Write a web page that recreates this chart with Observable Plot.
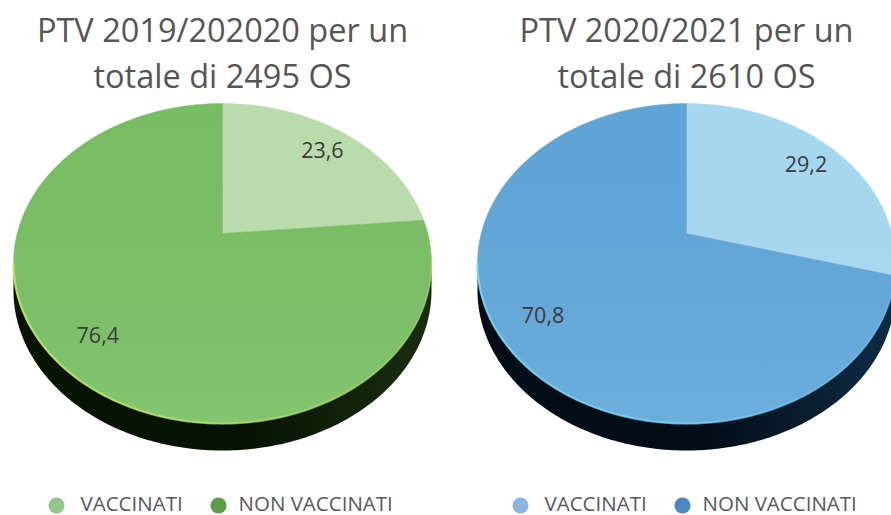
<!DOCTYPE html>
<html>
<head>
<meta charset="utf-8">
<script src="https://cdn.jsdelivr.net/npm/d3@7"></script>
<script src="https://cdn.jsdelivr.net/npm/@observablehq/plot@0.6"></script>
<style>
  html, body { margin: 0; padding: 0; background: #ffffff; overflow: hidden; }
  #chart svg { display: block; }
</style>
</head>
<body>
<div id="chart"></div>
<script>
// ---------- data ----------
const seasons = ["2019/2020", "2020/2021"];
const titleLine1 = ["PTV 2019/202020 per un", "PTV 2020/2021 per un"];
const titleLine2 = ["totale di 2495 OS", "totale di 2610 OS"];
const categories = ["VACCINATI", "NON VACCINATI"];
const vaccinati = [23.6, 29.2];
const nonVaccinati = [76.4, 70.8];

// ---------- styles ----------
const sliceColors = [["#bee0af", "#7bc165"], ["#a9dcf4", "#62a8db"]];
const legendColors = [["#93c68b", "#5b9b4a"], ["#8cb6e1", "#4c87bf"]];
const sideGrad = [["#071303", "#1a2d10"], ["#030d18", "#0e2c45"]];
const rimColors = ["#c4e36a", "#78d6f7"];
const FONT = "'Open Sans', 'Noto Sans', sans-serif";

// ---------- layout (pixels) ----------
const W = 891, H = 515;
const PX = 205.3;            // pixels per pie radius unit
const CX0 = 222, CY0 = 233;  // centre of the left pie
const GAP = 464 / PX;        // distance between pie centres (units)
const K = 0.1875;            // perspective strength
const R = 154.4 / 205.3;     // vertical squash
const DEPTH = 27 / PX;       // thickness of the pie
const px = (v) => v / PX;

// projection of a point on the (tilted) unit disc
function proj(i, thetaDeg, r) {
  const t = thetaDeg * Math.PI / 180;
  const u = r * Math.sin(t), v = -r * Math.cos(t);
  const den = 1 - K * v;
  return {x: i * GAP + u / den, y: R * v / den};
}

const slices = [];   // polygons of top faces
const faces = [];    // whole top face (for shading)
const sides = [];    // side walls
const rims = [];     // rim highlight
const labels = [];
seasons.forEach((s, i) => {
  const vals = [vaccinati[i], nonVaccinati[i]];
  const total = d3.sum(vals);
  let a0 = 0;
  vals.forEach((v, j) => {
    const a1 = a0 + 360 * v / total;
    const key = s + "-" + j;
    const c = proj(i, 0, 0);
    slices.push({key, pie: i, cat: j, x: c.x, y: c.y});
    const n = Math.ceil((a1 - a0) * 2);
    for (let k = 0; k <= n; ++k) {
      const p = proj(i, a0 + (a1 - a0) * k / n, 1);
      slices.push({key, pie: i, cat: j, x: p.x, y: p.y});
    }
    slices.push({key, pie: i, cat: j, x: c.x, y: c.y});
    const mid = (a0 + a1) / 2;
    const lp = proj(i, mid, 0.8);
    labels.push({pie: i, x: lp.x, y: lp.y, text: v.toFixed(1).replace(".", ",")});
    a0 = a1;
  });
  for (let k = 0; k <= 720; ++k) {
    const p = proj(i, k / 2, 1);
    faces.push({pie: i, x: p.x, y: p.y});
  }
  // side wall between the two silhouette tangents, through the front
  const tR = Math.acos(-K) * 180 / Math.PI, tL = 360 - tR;
  const top = [], bottom = [];
  for (let k = 0; k <= 200; ++k) {
    const p = proj(i, tR + (tL - tR) * k / 200, 1);
    top.push(p);
    bottom.push({x: p.x, y: p.y + DEPTH});
  }
  top.forEach(p => sides.push({pie: i, x: p.x, y: p.y}));
  bottom.reverse().forEach(p => sides.push({pie: i, x: p.x, y: p.y}));
  top.forEach(p => rims.push({pie: i, x: p.x, y: p.y}));
});

// legend entries
const legend = [];
seasons.forEach((s, i) => {
  categories.forEach((c, j) => {
    legend.push({
      pie: i, cat: j, label: c,
      dx: i * GAP + px(j === 0 ? -166 : -4),
      tx: i * GAP + px(j === 0 ? -142 : 16),
      y: px(505 - CY0),
      ty: px(510 - CY0)
    });
  });
});

const titles = seasons.map((s, i) => ({pie: i, x: i * GAP, l1: titleLine1[i], l2: titleLine2[i]}));

const marks = [];
seasons.forEach((s, i) => {
  marks.push(Plot.line(sides.filter(d => d.pie === i), {x: "x", y: "y", fill: `url(#side${i})`, stroke: "none", curve: "linear"}));
  [0, 1].forEach(j => {
    marks.push(Plot.line(slices.filter(d => d.pie === i && d.cat === j), {
      x: "x", y: "y", z: "key", fill: sliceColors[i][j], stroke: sliceColors[i][j], strokeWidth: 0.5, curve: "linear"
    }));
  });
  marks.push(Plot.line(faces.filter(d => d.pie === i), {x: "x", y: "y", fill: "url(#shade)", stroke: "none", curve: "linear"}));
  marks.push(Plot.line(rims.filter(d => d.pie === i), {x: "x", y: "y", stroke: `url(#rim${i})`, strokeWidth: 2.2, curve: "linear"}));
});
marks.push(
  Plot.text(labels, {x: "x", y: "y", text: "text", fontSize: 21.5, fill: "#3b3b3b", fontFamily: FONT, textAnchor: "middle", lineAnchor: "middle"}),
  Plot.text(titles, {x: "x", y: () => px(41 - CY0), text: "l1", fontSize: 32.5, fill: "#555555", fontFamily: FONT, lineAnchor: "bottom"}),
  Plot.text(titles, {x: "x", y: () => px(87 - CY0), text: "l2", fontSize: 32.5, fill: "#555555", fontFamily: FONT, lineAnchor: "bottom"}),
  Plot.dot(legend, {x: "dx", y: "y", r: 8, fill: d => legendColors[d.pie][d.cat], stroke: "none"}),
  Plot.text(legend, {x: "tx", y: "ty", text: "label", fontSize: 20.5, fill: "#595959", fontFamily: FONT, textAnchor: "start", lineAnchor: "bottom"})
);

const chart = Plot.plot({
  width: W,
  height: H,
  margin: 0,
  style: {background: "#ffffff", overflow: "hidden"},
  x: {domain: [-CX0 / PX, (W - CX0) / PX], range: [0, W], axis: null},
  y: {domain: [-CY0 / PX, (H - CY0) / PX], range: [0, H], axis: null},
  marks
});

// gradients
const svg = d3.select(chart);
const defs = svg.insert("defs", ":first-child");
[0, 1].forEach(i => {
  const g = defs.append("linearGradient").attr("id", `side${i}`).attr("x1", 0).attr("y1", 0).attr("x2", 1).attr("y2", 0);
  g.append("stop").attr("offset", 0).attr("stop-color", sideGrad[i][0]);
  g.append("stop").attr("offset", 0.55).attr("stop-color", sideGrad[i][0]);
  g.append("stop").attr("offset", 1).attr("stop-color", sideGrad[i][1]);
  const r = defs.append("linearGradient").attr("id", `rim${i}`).attr("x1", 0).attr("y1", 0).attr("x2", 1).attr("y2", 0);
  r.append("stop").attr("offset", 0).attr("stop-color", rimColors[i]).attr("stop-opacity", 0.9);
  r.append("stop").attr("offset", 0.5).attr("stop-color", rimColors[i]).attr("stop-opacity", 0.7);
  r.append("stop").attr("offset", 1).attr("stop-color", rimColors[i]).attr("stop-opacity", 0.25);
});
const sh = defs.append("linearGradient").attr("id", "shade").attr("x1", 0).attr("y1", 0).attr("x2", 0).attr("y2", 1);
sh.append("stop").attr("offset", 0).attr("stop-color", "#000000").attr("stop-opacity", 0.02);
sh.append("stop").attr("offset", 1).attr("stop-color", "#ffffff").attr("stop-opacity", 0.07);

document.getElementById("chart").appendChild(chart);
</script>
</body>
</html>
